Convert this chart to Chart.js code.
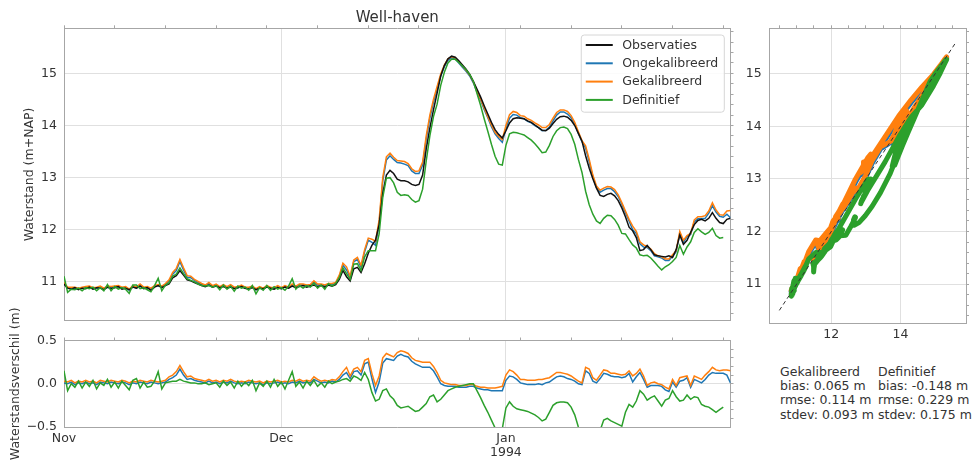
<!DOCTYPE html>
<html>
<head>
<meta charset="utf-8">
<script src="https://cdn.jsdelivr.net/npm/chart.js@4.4.1/dist/chart.umd.min.js"></script>
<style>
  html, body { margin: 0; padding: 0; background: #fff; width: 975px; height: 461px; overflow: hidden; }
  canvas { position: absolute; }
  .stats { position: absolute; top: 365px; font-family: 'DejaVu Sans', sans-serif; font-size: 12.5px;
           line-height: 14.2px; color: #333; white-space: pre; }
</style>
</head>
<body>
<canvas id="main" style="left:0;top:0"></canvas>
<canvas id="diff" style="left:0;top:290px"></canvas>
<canvas id="scat" style="left:735px;top:0"></canvas>
<div class="stats" id="statsGek" style="left:780px"></div>
<div class="stats" id="statsDef" style="left:878px"></div>
<script>
// ---------------- DATA (half-daily samples from 1 Nov 1993) ----------------
const STEP_DAYS = 0.5;
const seriesLabels = ['Observaties', 'Ongekalibreerd', 'Gekalibreerd', 'Definitief'];

// observed water level (m+NAP)
const obs = [
  10.96,10.88,10.86,10.89,10.85,10.88,10.87,10.90,10.86,10.89,
  10.88,10.85,10.90,10.87,10.89,10.91,10.86,10.88,10.85,10.90,
  10.88,10.92,10.87,10.89,10.84,10.90,10.93,10.89,10.93,
  10.96,11.08,11.12,11.22,11.13,11.04,11.02,10.99,10.96,
  10.93,10.91,10.94,10.90,10.92,10.89,10.91,10.88,10.90,10.87,
  10.89,10.91,10.88,10.86,10.89,10.85,10.88,10.87,10.90,10.88,
  10.86,10.89,10.87,10.90,10.88,10.92,10.89,10.91,10.93,10.90,
  10.92,10.94,10.91,10.93,10.90,10.94,10.92,10.95,
  11.05,11.22,11.10,11.02,11.25,11.28,11.18,11.35,11.55,11.70,
  11.80,12.10,12.70,13.05,13.14,13.08,12.97,12.94,12.94,12.92,
  12.87,12.85,12.87,13.05,13.55,13.95,14.30,14.62,14.95,15.15,
  15.28,15.33,15.31,15.24,15.16,15.08,14.98,14.85,14.70,14.55,
  14.38,14.22,14.06,13.92,13.83,13.76,13.90,14.05,14.13,14.15,
  14.14,14.13,14.09,14.06,14.01,13.96,13.91,13.90,13.95,14.04,
  14.12,14.17,14.18,14.16,14.10,14.00,13.85,13.70,13.42,13.18,
  12.98,12.80,12.66,12.64,12.68,12.70,12.65,12.56,12.42,12.25,
  12.05,11.98,11.85,11.60,11.62,11.70,11.62,11.52,11.50,11.49,
  11.48,11.50,11.47,11.62,11.90,11.72,11.80,11.95,12.10,12.18,
  12.20,12.17,12.22,12.33,12.22,12.14,12.12,12.20,12.22
];
const diffOng = [
  0.01,0.00,0.02,-0.01,0.01,0.00,0.02,0.00,0.01,-0.01,
  0.02,0.01,0.00,0.02,0.01,0.00,0.02,0.01,-0.01,0.01,
  0.00,0.02,0.01,0.00,0.02,0.01,0.00,0.01,0.02,
  0.05,0.07,0.10,0.17,0.10,0.05,0.06,0.04,0.03,
  0.02,0.01,0.03,0.01,0.02,0.00,0.02,0.01,0.03,0.01,
  0.00,0.01,0.00,0.02,0.01,0.00,0.01,-0.01,0.01,0.00,
  0.01,0.02,0.00,0.01,0.00,0.02,0.01,0.03,0.01,0.02,
  0.01,0.05,0.03,0.01,0.02,0.01,0.03,0.02,
  0.05,0.10,0.13,0.06,0.14,0.15,0.10,0.23,0.25,0.06,
  -0.10,0.02,0.24,0.29,0.28,0.27,0.32,0.34,0.32,0.31,
  0.26,0.23,0.21,0.19,0.19,0.19,0.15,0.08,0.00,-0.02,
  -0.03,-0.03,-0.03,-0.04,-0.04,-0.04,-0.03,-0.03,-0.05,-0.06,
  -0.07,-0.07,-0.08,-0.08,-0.08,-0.08,0.04,0.09,0.08,0.05,
  0.01,0.00,-0.01,-0.01,-0.01,0.00,-0.01,0.01,0.02,0.05,
  0.08,0.09,0.08,0.06,0.05,0.03,0.00,-0.01,0.15,0.12,
  0.03,0.01,0.06,0.12,0.11,0.09,0.08,0.08,0.07,0.08,
  0.12,0.02,0.08,0.13,0.05,-0.04,-0.02,-0.02,-0.02,-0.03,
  -0.07,-0.09,0.02,-0.04,0.03,0.04,0.07,-0.04,0.05,0.03,
  0.01,0.05,0.10,0.13,0.12,0.12,0.12,0.10,0.01
];
const diffGek = [
  0.03,0.02,0.04,0.01,0.03,0.02,0.04,0.02,0.03,0.01,
  0.04,0.03,0.02,0.04,0.03,0.02,0.04,0.03,0.01,0.03,
  0.02,0.04,0.03,0.02,0.04,0.03,0.02,0.03,0.04,
  0.08,0.10,0.14,0.21,0.14,0.08,0.09,0.06,0.05,
  0.04,0.03,0.05,0.03,0.04,0.02,0.04,0.03,0.05,0.03,
  0.02,0.03,0.02,0.04,0.03,0.02,0.03,0.01,0.03,0.02,
  0.03,0.04,0.02,0.03,0.02,0.04,0.03,0.05,0.03,0.04,
  0.03,0.08,0.05,0.03,0.04,0.03,0.05,0.04,
  0.08,0.14,0.19,0.09,0.17,0.19,0.14,0.27,0.29,0.12,
  -0.02,0.09,0.30,0.35,0.33,0.31,0.36,0.38,0.37,0.35,
  0.30,0.27,0.26,0.25,0.25,0.25,0.20,0.13,0.04,0.01,
  0.00,-0.01,-0.01,-0.02,-0.02,-0.02,-0.01,-0.01,-0.03,-0.04,
  -0.04,-0.05,-0.05,-0.05,-0.04,-0.03,0.10,0.16,0.14,0.10,
  0.05,0.05,0.04,0.04,0.04,0.05,0.05,0.06,0.07,0.10,
  0.13,0.13,0.12,0.11,0.09,0.06,0.03,0.01,0.19,0.17,
  0.07,0.04,0.10,0.16,0.15,0.12,0.12,0.11,0.10,0.11,
  0.15,0.09,0.12,0.17,0.09,-0.02,0.01,0.02,0.00,-0.01,
  -0.04,-0.06,0.05,-0.02,0.07,0.08,0.09,-0.02,0.09,0.07,
  0.05,0.10,0.14,0.19,0.16,0.15,0.16,0.16,0.15
];
const diffDef = [
  0.15,-0.08,0.00,-0.04,0.03,-0.05,0.02,-0.03,0.04,-0.06,
  0.01,-0.02,0.05,-0.04,0.02,-0.05,0.03,-0.02,-0.07,0.04,
  0.06,-0.05,0.02,-0.04,-0.03,0.03,0.14,-0.06,0.01,
  0.02,0.03,0.03,0.05,0.03,0.02,0.01,0.01,0.00,
  0.00,0.01,-0.01,0.00,0.01,-0.04,0.03,-0.02,0.02,-0.05,
  0.03,-0.03,0.02,-0.02,0.04,-0.08,0.01,-0.03,0.03,-0.04,
  0.05,-0.03,0.02,-0.06,0.04,0.14,-0.03,0.02,-0.05,0.03,
  -0.02,0.04,-0.03,0.01,-0.04,0.03,0.00,0.02,
  0.03,0.05,0.06,0.03,0.09,0.07,0.04,0.13,0.05,-0.10,
  -0.20,-0.18,-0.08,-0.06,-0.14,-0.18,-0.25,-0.28,-0.27,-0.26,
  -0.29,-0.32,-0.31,-0.27,-0.23,-0.15,-0.13,-0.21,-0.18,-0.13,
  -0.08,-0.06,-0.04,-0.03,-0.02,-0.01,0.00,0.00,-0.08,-0.16,
  -0.25,-0.33,-0.42,-0.51,-0.57,-0.52,-0.28,-0.21,-0.26,-0.29,
  -0.30,-0.31,-0.32,-0.34,-0.36,-0.39,-0.43,-0.41,-0.33,-0.25,
  -0.22,-0.21,-0.21,-0.22,-0.27,-0.36,-0.50,-0.60,-0.68,-0.70,
  -0.68,-0.63,-0.54,-0.42,-0.40,-0.43,-0.45,-0.47,-0.49,-0.33,
  -0.24,-0.27,-0.20,-0.08,-0.12,-0.19,-0.16,-0.14,-0.20,-0.26,
  -0.19,-0.17,-0.08,-0.15,-0.20,-0.19,-0.13,-0.18,-0.15,-0.16,
  -0.24,-0.26,-0.27,-0.30,-0.33,-0.30,-0.27,null,null
];

// axis ticks (days since 1 Nov 1993 / metres)
const monthTicks = [0, 30, 61];
const monthLabels = ['Nov', 'Dec', ['Jan', '1994']];
const weekTicks = [0, 7, 14, 21, 28, 35, 42, 49, 56, 63, 70, 77, 84, 91];
const levelTicks = [11, 12, 13, 14, 15];
const scatterXTicks = [12, 14];
const diffTicks = [-0.5, 0, 0.5];
const diagonal = [10.5, 15.6];

const statsGek = { title: 'Gekalibreerd', bias: '0.065', rmse: '0.114', stdev: '0.093' };
const statsDef = { title: 'Definitief', bias: '-0.148', rmse: '0.229', stdev: '0.175' };

// ---------------- helpers ----------------
const FONT = "'DejaVu Sans', sans-serif";
const TXT = '#333333', SPINE = '#a6a6a6', GRID = '#e0e0e0';
const COL = { obs: '#111111', ong: '#1f77b4', gek: '#ff7f0e', def: '#2ca02c' };
const LEVEL_MIN = 10.26, LEVEL_MAX = 15.865;

const days = obs.map((_, i) => i * STEP_DAYS);
const add = (a, d) => a.map((v, i) => (d[i] === null ? null : +(v + d[i]).toFixed(3)));
const ong = add(obs, diffOng), gek = add(obs, diffGek), def = add(obs, diffDef);
const ts = arr => arr.map((v, i) => ({ x: days[i], y: v }));
const xy = arr => obs.map((o, i) => ({ x: o, y: arr[i] }));
const steps = (a, b, s) => { const r = []; for (let v = a; v <= b + 1e-9; v += s) r.push(+v.toFixed(3)); return r; };

const fixW = w => s => { s.width = w; };
const fixH = h => s => { s.height = h; };
const setTicks = vals => s => { s.ticks = vals.map(v => ({ value: v })); };
const font = (size, extra) => Object.assign({ family: FONT, size: size }, extra || {});
const minus = v => String(v).replace('-', '\u2212');

function minorAxis(pos, min, max, vals, size) {
  const o = {
    type: 'linear', position: pos, min: min, max: max,
    afterBuildTicks: setTicks(vals),
    grid: { drawOnChartArea: false, drawTicks: true, tickLength: 3, tickColor: SPINE, tickWidth: 1 },
    border: { display: true, color: SPINE, width: 1 },
    ticks: { display: false, autoSkip: false }
  };
  if (pos === 'top' || pos === 'bottom') o.afterFit = fixH(size); else o.afterFit = fixW(size);
  return o;
}

const lineDs = (label, data, color, order) => ({
  label: label, data: data, borderColor: color, backgroundColor: color,
  borderWidth: 1.5, pointRadius: 0, order: order, spanGaps: false, fill: false
});

// legend drawn inside chart area, boxed
const boxLegend = {
  id: 'boxLegend',
  afterDatasetsDraw(chart) {
    const { ctx, chartArea } = chart;
    ctx.save();
    ctx.font = '12.5px ' + FONT;
    const items = seriesLabels.map(l => chart.data.datasets.find(d => d.label === l));
    const textW = Math.max(...items.map(d => ctx.measureText(d.label).width));
    const padL = 4.5, lineLen = 27, gap = 9.5, padR = 6, rowH = 18.3, padT = 10, padB = 12.3;
    const w = padL + lineLen + gap + textW + padR;
    const h = padT + rowH * (items.length - 1) + padB;
    const x0 = chartArea.right - 6.2 - w, y0 = chartArea.top + 6.7;
    ctx.beginPath();
    ctx.roundRect(x0, y0, w, h, 3);
    ctx.fillStyle = 'rgba(255,255,255,0.85)';
    ctx.fill();
    ctx.strokeStyle = '#d6d6d6';
    ctx.lineWidth = 1;
    ctx.stroke();
    items.forEach((d, k) => {
      const cy = y0 + padT + k * rowH;
      ctx.beginPath();
      ctx.moveTo(x0 + padL, cy);
      ctx.lineTo(x0 + padL + lineLen, cy);
      ctx.strokeStyle = d.borderColor;
      ctx.lineWidth = 2;
      ctx.stroke();
      ctx.fillStyle = TXT;
      ctx.textBaseline = 'middle';
      ctx.textAlign = 'left';
      ctx.fillText(d.label, x0 + padL + lineLen + gap, cy + 0.5);
    });
    ctx.restore();
  }
};

Chart.defaults.font.family = FONT;
Chart.defaults.color = TXT;

function sizeCanvas(id, w, h) {
  const c = document.getElementById(id);
  c.width = w; c.height = h; c.style.width = w + 'px'; c.style.height = h + 'px';
  return c;
}

// ---------------- main time-series panel ----------------
new Chart(sizeCanvas('main', 745, 335), {
  type: 'line',
  data: {
    datasets: [
      lineDs(seriesLabels[0], ts(obs), COL.obs, 1),
      lineDs(seriesLabels[1], ts(ong), COL.ong, 3),
      lineDs(seriesLabels[2], ts(gek), COL.gek, 2),
      lineDs(seriesLabels[3], ts(def), COL.def, 0)
    ]
  },
  plugins: [boxLegend],
  options: {
    responsive: false, animation: false, devicePixelRatio: 1,
    layout: { padding: { left: 0, right: 0, top: 0, bottom: 12 } },
    plugins: {
      legend: { display: false }, tooltip: { enabled: false },
      title: { display: true, text: 'Well-haven', color: TXT, fullSize: false,
               font: font(15, { weight: 'normal', lineHeight: 1.2 }), padding: { top: 9.3, bottom: 1 } }
    },
    scales: {
      x: {
        type: 'linear', position: 'bottom', min: 0, max: 92,
        afterBuildTicks: setTicks(monthTicks), afterFit: fixH(0),
        grid: { color: GRID, lineWidth: 1, drawTicks: false },
        border: { display: true, color: SPINE, width: 1 },
        ticks: { display: false, autoSkip: false }
      },
      x2: minorAxis('top', 0, 92, weekTicks, 0),
      y: {
        type: 'linear', position: 'left', min: LEVEL_MIN, max: LEVEL_MAX,
        afterBuildTicks: setTicks(levelTicks), afterFit: fixW(64),
        grid: { color: GRID, lineWidth: 1, drawTicks: false },
        border: { display: true, color: SPINE, width: 1 },
        ticks: { color: TXT, font: font(12.5), padding: 7, autoSkip: false, callback: v => String(v) },
        title: { display: true, text: 'Waterstand (m+NAP)', color: TXT, font: font(12.5, { lineHeight: 1.2 }),
                 padding: { top: 22.2, bottom: 0 } }
      },
      y2: minorAxis('right', LEVEL_MIN, LEVEL_MAX, steps(10.4, 15.8, 0.2), 14.5)
    }
  }
});

// ---------------- difference panel ----------------
new Chart(sizeCanvas('diff', 745, 171), {
  type: 'line',
  data: {
    datasets: [
      lineDs(seriesLabels[1], ts(diffOng), COL.ong, 2),
      lineDs(seriesLabels[2], ts(diffGek), COL.gek, 1),
      lineDs(seriesLabels[3], ts(diffDef), COL.def, 0)
    ]
  },
  options: {
    responsive: false, animation: false, devicePixelRatio: 1,
    layout: { padding: { left: 0, right: 0, top: 50.5, bottom: 0 } },
    plugins: { legend: { display: false }, tooltip: { enabled: false } },
    scales: {
      x: {
        type: 'linear', position: 'bottom', min: 0, max: 92,
        afterBuildTicks: setTicks(monthTicks), afterFit: fixH(34),
        grid: { color: GRID, lineWidth: 1, drawTicks: false },
        border: { display: true, color: SPINE, width: 1 },
        ticks: { color: TXT, font: font(12.5, { lineHeight: 1.1 }), padding: 5, autoSkip: false, maxRotation: 0,
                 callback: v => monthLabels[monthTicks.indexOf(v)] }
      },
      x2: minorAxis('top', 0, 92, weekTicks, 0),
      y: {
        type: 'linear', position: 'left', min: -0.5, max: 0.5,
        afterBuildTicks: setTicks(diffTicks), afterFit: fixW(64),
        grid: { color: GRID, lineWidth: 1, drawTicks: false },
        border: { display: true, color: SPINE, width: 1 },
        ticks: { color: TXT, font: font(12.5), padding: 7, autoSkip: false, callback: v => minus(v.toFixed(1)) },
        title: { display: true, text: 'Waterstandsverschil (m)', color: TXT, font: font(12.5, { lineHeight: 1.2 }),
                 padding: { top: 8.5, bottom: 0 } }
      },
      y2: minorAxis('right', -0.5, 0.5, steps(-0.4, 0.4, 0.1), 14.5)
    }
  }
});

// ---------------- scatter panel (observed vs. model) ----------------
const bandDs = (label, data, color, order) => ({
  label: label, data: data, borderColor: color, backgroundColor: color,
  showLine: true, borderWidth: 5, pointRadius: 0, borderCapStyle: 'round', borderJoinStyle: 'round',
  order: order, spanGaps: false
});
new Chart(sizeCanvas('scat', 240, 345), {
  type: 'scatter',
  data: {
    datasets: [
      { label: '1:1', data: diagonal.map(v => ({ x: v, y: v })), showLine: true, borderColor: '#333',
        borderWidth: 1, borderDash: [4, 3], pointRadius: 0, order: -1 },
      bandDs(seriesLabels[1], xy(ong), COL.ong, 2),
      bandDs(seriesLabels[2], xy(gek), COL.gek, 1),
      bandDs(seriesLabels[3], xy(def), COL.def, 0)
    ]
  },
  options: {
    responsive: false, animation: false, devicePixelRatio: 1,
    layout: { padding: { left: 0, right: 0, top: 28.3, bottom: 0 } },
    plugins: { legend: { display: false }, tooltip: { enabled: false } },
    scales: {
      x: {
        type: 'linear', position: 'bottom', min: 10.21, max: 15.89,
        afterBuildTicks: setTicks(scatterXTicks), afterFit: fixH(22),
        grid: { color: GRID, lineWidth: 1, drawTicks: false },
        border: { display: true, color: SPINE, width: 1 },
        ticks: { color: TXT, font: font(12.5, { lineHeight: 1.1 }), padding: 4.5, autoSkip: false, maxRotation: 0,
                 callback: v => String(v) }
      },
      x2: minorAxis('top', 10.21, 15.89, steps(10.5, 15.5, 0.5), 0),
      y: {
        type: 'linear', position: 'left', min: LEVEL_MIN, max: LEVEL_MAX,
        afterBuildTicks: setTicks(levelTicks), afterFit: fixW(34.3),
        grid: { color: GRID, lineWidth: 1, drawTicks: false },
        border: { display: true, color: SPINE, width: 1 },
        ticks: { color: TXT, font: font(12.5), padding: 7.6, autoSkip: false, callback: v => String(v) }
      },
      y2: minorAxis('right', LEVEL_MIN, LEVEL_MAX, steps(10.4, 15.8, 0.2), 9)
    }
  }
});

// ---------------- statistics text ----------------
const statText = s => [s.title, 'bias: ' + s.bias + ' m', 'rmse: ' + s.rmse + ' m', 'stdev: ' + s.stdev + ' m'].join('\n');
document.getElementById('statsGek').textContent = statText(statsGek);
document.getElementById('statsDef').textContent = statText(statsDef);
</script>
</body>
</html>
